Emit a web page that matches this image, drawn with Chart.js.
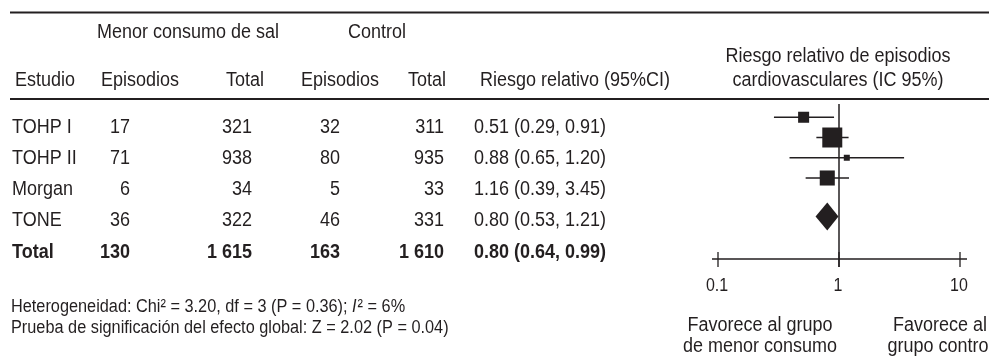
<!DOCTYPE html>
<html>
<head>
<meta charset="utf-8">
<script src="https://cdn.jsdelivr.net/npm/chart.js@4.4.1/dist/chart.umd.min.js"></script>
<style>
    html, body { margin: 0; padding: 0; background: #fff; }
    #wrap { width: 989px; height: 356px; position: relative; }
</style>
</head>
<body>
<div id="wrap"><canvas id="forest"></canvas></div>
<script>
const studies = ["TOHP I", "TOHP II", "Morgan", "TONE"];
const eventsSal = [17, 71, 6, 36];
const totalSal = [321, 938, 34, 322];
const eventsCtl = [32, 80, 5, 46];
const totalCtl = [311, 935, 33, 331];
const rr = [0.51, 0.88, 1.16, 0.80];
const ciLow = [0.29, 0.65, 0.39, 0.53];
const ciHigh = [0.91, 1.20, 3.45, 1.21];
const weights = [15.5, 51, 4.6, 28.9];
const totalLabel = "Total";
const totalCounts = [130, 1615, 163, 1610];
const pooled = [0.80, 0.64, 0.99];
const xTicks = [0.1, 1, 10];

const ink = "#231f20";
const family = '"Liberation Sans", Arial, Helvetica, sans-serif';
const totalPos = studies.length + 1.9;
// the printed type is a condensed grotesque: taller glyphs, narrower set
const grow = 1.14;

const fmtInt = (n) => String(n).replace(/\B(?=(\d{3})+(?!\d))/g, " ");
const fmtRR = (v, lo, hi) => `${v.toFixed(2)} (${lo.toFixed(2)}, ${hi.toFixed(2)})`;

const text = (ctx, str, x, y, align, size, weight, style) => {
    ctx.save();
    ctx.font = `${style || ""} ${weight || "normal"} ${size * grow}px ${family}`;
    ctx.textAlign = align;
    ctx.textBaseline = "middle";
    ctx.translate(x, y);
    ctx.scale(1 / grow, 1);
    ctx.fillText(str, 0, 0);
    const w = ctx.measureText(str).width / grow;
    ctx.restore();
    return w;
};

const forestPlugin = {
    id: "forest",
    beforeDatasetsDraw(chart) {
        const { ctx, scales: { x, y }, chartArea } = chart;
        ctx.save();
        ctx.strokeStyle = ink;
        ctx.lineWidth = 1.5;
        const x1 = x.getPixelForValue(1);
        ctx.beginPath();
        ctx.moveTo(x1, y.getPixelForValue(0.35));
        ctx.lineTo(x1, chartArea.bottom + 8);
        ctx.stroke();

        ctx.lineWidth = 1.3;
        ctx.beginPath();
        ctx.moveTo(chartArea.left - 6, chartArea.bottom);
        ctx.lineTo(chartArea.right + 7, chartArea.bottom);
        xTicks.forEach((t) => {
            const px = x.getPixelForValue(t);
            ctx.moveTo(px, chartArea.bottom - 7);
            ctx.lineTo(px, chartArea.bottom + 8);
        });
        ctx.stroke();
        ctx.fillStyle = ink;
        xTicks.forEach((t) => {
            text(ctx, String(t), x.getPixelForValue(t) - 1, chartArea.bottom + 27, "center", 16);
        });
        ctx.restore();
    },
    afterDatasetsDraw(chart) {
        const { ctx, scales: { x, y } } = chart;
        const cy = y.getPixelForValue(totalPos);
        ctx.save();
        ctx.fillStyle = ink;
        ctx.beginPath();
        ctx.moveTo(x.getPixelForValue(pooled[1]), cy);
        ctx.lineTo(x.getPixelForValue(pooled[0]), cy - 14);
        ctx.lineTo(x.getPixelForValue(pooled[2]), cy);
        ctx.lineTo(x.getPixelForValue(pooled[0]), cy + 14);
        ctx.closePath();
        ctx.fill();
        ctx.restore();
    },
    afterDraw(chart) {
        const ctx = chart.ctx;
        ctx.save();
        ctx.fillStyle = ink;
        ctx.strokeStyle = ink;

        // rules
        ctx.lineWidth = 2;
        ctx.beginPath();
        ctx.moveTo(10, 12.5); ctx.lineTo(989, 12.5);
        ctx.moveTo(10, 99); ctx.lineTo(989, 99);
        ctx.stroke();

        // headers
        text(ctx, "Menor consumo de sal", 188, 32, "center", 18);
        text(ctx, "Control", 377, 32, "center", 18);
        text(ctx, "Estudio", 15, 80, "left", 18);
        text(ctx, "Episodios", 140, 80, "center", 18);
        text(ctx, "Total", 264, 80, "right", 18);
        text(ctx, "Episodios", 340, 80, "center", 18);
        text(ctx, "Total", 446, 80, "right", 18);
        text(ctx, "Riesgo relativo (95%CI)", 480, 80, "left", 18);
        text(ctx, "Riesgo relativo de episodios", 838, 56, "center", 18);
        text(ctx, "cardiovasculares (IC 95%)", 838, 80, "center", 18);

        // rows
        const rowY = (i) => 127 + i * 31.25;
        const row = (cells, i, weight) => {
            const yy = rowY(i);
            text(ctx, cells[0], 12, yy, "left", 18, weight);
            text(ctx, cells[1], 130, yy, "right", 18, weight);
            text(ctx, cells[2], 252, yy, "right", 18, weight);
            text(ctx, cells[3], 340, yy, "right", 18, weight);
            text(ctx, cells[4], 444, yy, "right", 18, weight);
            text(ctx, cells[5], 474, yy, "left", 18, weight);
        };
        studies.forEach((s, i) => {
            row([s, fmtInt(eventsSal[i]), fmtInt(totalSal[i]), fmtInt(eventsCtl[i]), fmtInt(totalCtl[i]),
                fmtRR(rr[i], ciLow[i], ciHigh[i])], i);
        });
        row([totalLabel, ...totalCounts.map(fmtInt), fmtRR(pooled[0], pooled[1], pooled[2])], studies.length, "bold");

        // footer
        let fx = 11;
        fx += text(ctx, "Heterogeneidad: Chi\u00b2 = 3.20, df = 3 (P = 0.36); ", fx, 307, "left", 16.3);
        fx += text(ctx, "I", fx, 307, "left", 16.3, "normal", "italic");
        text(ctx, "\u00b2 = 6%", fx + 1, 307, "left", 16.3);
        text(ctx, "Prueba de significación del efecto global: Z = 2.02 (P = 0.04)", 11, 328, "left", 16.3);

        text(ctx, "Favorece al grupo", 760, 325, "center", 18);
        text(ctx, "de menor consumo", 760, 346, "center", 18);
        text(ctx, "Favorece al", 940, 325, "center", 18);
        text(ctx, "grupo control", 940, 346, "center", 18);
        ctx.restore();
    },
};

const ciSets = studies.map((s, i) => ({
    type: "line",
    label: s,
    data: [{ x: ciLow[i], y: i + 1 }, { x: ciHigh[i], y: i + 1 }],
    borderColor: ink,
    borderWidth: 1.3,
    pointRadius: 0,
    order: 2,
}));

new Chart(document.getElementById("forest"), {
    type: "scatter",
    data: {
        datasets: [
            ...ciSets,
            {
                label: "RR",
                data: rr.map((v, i) => ({ x: v, y: i + 1 })),
                pointStyle: "rect",
                pointRadius: weights.map((w) => 2.8 * Math.sqrt(w) / Math.SQRT2),
                pointBackgroundColor: ink,
                pointBorderWidth: 0,
                order: 1,
            },
        ],
    },
    options: {
        responsive: true,
        maintainAspectRatio: false,
        animation: false,
        layout: { padding: { left: 718, right: 29, top: 97, bottom: 97 } },
        plugins: { legend: { display: false }, tooltip: { enabled: false } },
        scales: {
            x: {
                type: "logarithmic",
                min: 0.1,
                max: 10,
                display: false,
            },
            y: {
                type: "linear",
                reverse: true,
                min: 0,
                max: 8,
                display: false,
            },
        },
    },
    plugins: [forestPlugin],
});
</script>
</body>
</html>
